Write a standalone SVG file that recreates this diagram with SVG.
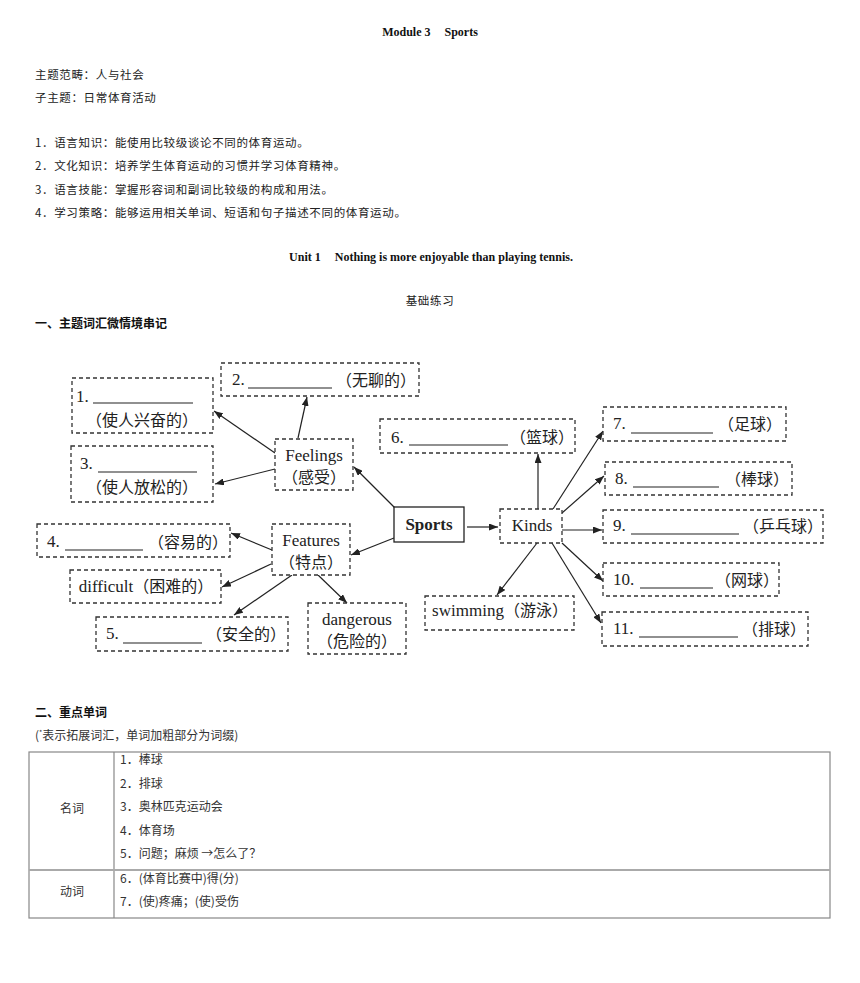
<svg xmlns="http://www.w3.org/2000/svg" width="860" height="983" viewBox="0 0 860 983">
<defs>
<marker id="ah" markerUnits="userSpaceOnUse" markerWidth="9" markerHeight="7" refX="9" refY="3.5" orient="auto">
<path d="M0,0 L9,3.5 L0,7 z" fill="#222"/>
</marker>
<style>
.bg{fill:#fff}
.hdr{font-family:"Liberation Serif","Noto Sans CJK SC",serif;font-weight:bold;font-size:12px;fill:#111}
.cn{font-family:"Noto Sans CJK SC",sans-serif;font-size:11.5px;fill:#222;letter-spacing:0.65px}
.cnb{font-family:"Noto Sans CJK SC",sans-serif;font-size:12px;font-weight:bold;fill:#111}
.box{fill:#fff;stroke:#333;stroke-width:1.3;stroke-dasharray:4 3}
.solid{fill:#fff;stroke:#222;stroke-width:1.3}
.t{font-family:"Liberation Serif","Noto Sans CJK SC",serif;font-size:17px;fill:#222}
.tc{font-family:"Liberation Serif","Noto Sans CJK SC",serif;font-size:16px;fill:#222}
.bl{stroke:#222;stroke-width:1.2}
.con line{stroke:#222;stroke-width:1.2;marker-end:url(#ah)}
.tb{fill:none;stroke:#888;stroke-width:1.2}
.tbl{font-family:"Noto Sans CJK SC",sans-serif;font-size:12px;fill:#333}
</style>
</defs>
<rect class="bg" x="0" y="0" width="860" height="983"/>

<g id="header">
<text class="hdr" x="430" y="36" text-anchor="middle" font-size="11.5">Module 3<tspan dx="14">Sports</tspan></text>
<text class="cn" x="35" y="79">主题范畴：人与社会</text>
<text class="cn" x="35" y="102">子主题：日常体育活动</text>
<text class="cn" x="35" y="147">1．语言知识：能使用比较级谈论不同的体育运动。</text>
<text class="cn" x="35" y="170">2．文化知识：培养学生体育运动的习惯并学习体育精神。</text>
<text class="cn" x="35" y="194">3．语言技能：掌握形容词和副词比较级的构成和用法。</text>
<text class="cn" x="35" y="217">4．学习策略：能够运用相关单词、短语和句子描述不同的体育运动。</text>
<text class="hdr" x="431" y="261" text-anchor="middle" font-size="11.5">Unit 1<tspan dx="14">Nothing is more enjoyable than playing tennis.</tspan></text>
<text class="cn" x="430" y="305" text-anchor="middle" font-size="12" letter-spacing="0">基础练习</text>
<text class="cnb" x="35" y="328">一、主题词汇微情境串记</text>
</g>

<g id="connectors" class="con">
<line x1="395" y1="508" x2="354" y2="467"/>
<line x1="394" y1="538" x2="351" y2="555"/>
<line x1="467" y1="527" x2="498" y2="527"/>
<line x1="275" y1="453" x2="214" y2="411"/>
<line x1="298" y1="438" x2="307" y2="397"/>
<line x1="275" y1="469" x2="215" y2="484"/>
<line x1="272" y1="550" x2="231" y2="533"/>
<line x1="271" y1="564" x2="222" y2="587"/>
<line x1="292" y1="575" x2="234" y2="615"/>
<line x1="318" y1="575" x2="347" y2="603"/>
<line x1="538" y1="509" x2="538" y2="454"/>
<line x1="553" y1="509" x2="603" y2="431"/>
<line x1="562" y1="513" x2="604" y2="476"/>
<line x1="562" y1="530" x2="602" y2="530"/>
<line x1="562" y1="543" x2="603" y2="581"/>
<line x1="552" y1="543" x2="601" y2="623"/>
<line x1="537" y1="543" x2="497" y2="595"/>
</g>

<g id="n1"><rect class="box" x="72" y="378" width="141" height="55"/>
<text class="t" x="76" y="402">1.</text><line class="bl" x1="93" y1="403" x2="193" y2="403"/>
<text class="tc" x="142" y="426" text-anchor="middle">（使人兴奋的）</text></g>

<g id="n2"><rect class="box" x="221" y="363" width="198" height="33"/>
<text class="t" x="232" y="385">2.</text><line class="bl" x1="248" y1="388" x2="332" y2="388"/>
<text class="tc" x="416" y="386" text-anchor="end">（无聊的）</text></g>

<g id="n3"><rect class="box" x="71" y="446" width="142" height="56"/>
<text class="t" x="80" y="469">3.</text><line class="bl" x1="98" y1="472" x2="197" y2="472"/>
<text class="tc" x="142" y="493" text-anchor="middle">（使人放松的）</text></g>

<g id="feelings"><rect class="box" x="275" y="439" width="78" height="51"/>
<text class="t" x="314" y="461" text-anchor="middle">Feelings</text>
<text class="tc" x="314" y="483" text-anchor="middle">（感受）</text></g>

<g id="sports"><rect class="solid" x="394" y="507" width="70" height="35"/>
<text class="t" x="429" y="530" text-anchor="middle" font-weight="bold" font-size="18">Sports</text></g>

<g id="kinds"><rect class="box" x="500" y="509" width="62" height="34"/>
<text class="t" x="532" y="531" text-anchor="middle">Kinds</text></g>

<g id="features"><rect class="box" x="272" y="524" width="78" height="51"/>
<text class="t" x="311" y="546" text-anchor="middle">Features</text>
<text class="tc" x="311" y="568" text-anchor="middle">（特点）</text></g>

<g id="n4"><rect class="box" x="37" y="524" width="193" height="33"/>
<text class="t" x="47" y="547">4.</text><line class="bl" x1="65" y1="550" x2="143" y2="550"/>
<text class="tc" x="228" y="548" text-anchor="end">（容易的）</text></g>

<g id="difficult"><rect class="box" x="70" y="570" width="151" height="33"/>
<text class="t" x="146" y="592" text-anchor="middle">difficult<tspan class="tc">（困难的）</tspan></text></g>

<g id="n5"><rect class="box" x="96" y="617" width="192" height="34"/>
<text class="t" x="106" y="639">5.</text><line class="bl" x1="123" y1="643" x2="202" y2="643"/>
<text class="tc" x="286" y="640" text-anchor="end">（安全的）</text></g>

<g id="dangerous"><rect class="box" x="308" y="603" width="98" height="51"/>
<text class="t" x="357" y="625" text-anchor="middle">dangerous</text>
<text class="tc" x="357" y="647" text-anchor="middle">（危险的）</text></g>

<g id="n6"><rect class="box" x="380" y="419" width="195" height="34"/>
<text class="t" x="391" y="443">6.</text><line class="bl" x1="409" y1="445" x2="508" y2="445"/>
<text class="tc" x="574" y="443" text-anchor="end">（篮球）</text></g>

<g id="n7"><rect class="box" x="603" y="407" width="183" height="34"/>
<text class="t" x="613" y="429">7.</text><line class="bl" x1="631" y1="433" x2="713" y2="433"/>
<text class="tc" x="782" y="430" text-anchor="end">（足球）</text></g>

<g id="n8"><rect class="box" x="605" y="462" width="187" height="33"/>
<text class="t" x="615" y="484">8.</text><line class="bl" x1="633" y1="487" x2="719" y2="487"/>
<text class="tc" x="789" y="485" text-anchor="end">（棒球）</text></g>

<g id="n9"><rect class="box" x="603" y="510" width="220" height="33"/>
<text class="t" x="613" y="531">9.</text><line class="bl" x1="631" y1="534" x2="739" y2="534"/>
<text class="tc" x="823" y="532" text-anchor="end">（乒乓球）</text></g>

<g id="n10"><rect class="box" x="603" y="563" width="176" height="33"/>
<text class="t" x="613" y="585">10.</text><line class="bl" x1="640" y1="588" x2="713" y2="588"/>
<text class="tc" x="779" y="586" text-anchor="end">（网球）</text></g>

<g id="n11"><rect class="box" x="602" y="612" width="206" height="34"/>
<text class="t" x="613" y="634">11.</text><line class="bl" x1="639" y1="637" x2="738" y2="637"/>
<text class="tc" x="806" y="635" text-anchor="end">（排球）</text></g>

<g id="swimming"><rect class="box" x="425" y="596" width="149" height="34"/>
<text class="t" x="500" y="616" text-anchor="middle">swimming<tspan class="tc">（游泳）</tspan></text></g>

<g id="section2">
<text class="cnb" x="35" y="717">二、重点单词</text>
<text class="tbl" x="35" y="740">(<tspan font-size="7" dy="-5">*</tspan><tspan dy="5">表示拓展词汇，单词加粗部分为词缀)</tspan></text>
<rect class="tb" x="29" y="752" width="801" height="166"/>
<line x1="114" y1="752" x2="114" y2="918" stroke="#888" stroke-width="1.2"/>
<line x1="29" y1="870" x2="830" y2="870" stroke="#aaa" stroke-width="2"/>
<text class="tbl" x="72" y="813" text-anchor="middle">名词</text>
<text class="tbl" x="72" y="896" text-anchor="middle">动词</text>
<text class="tbl" x="120" y="764">1．棒球</text>
<text class="tbl" x="120" y="788">2．排球</text>
<text class="tbl" x="120" y="811">3．奥林匹克运动会</text>
<text class="tbl" x="120" y="835">4．体育场</text>
<text class="tbl" x="120" y="858">5．问题；麻烦 →怎么了？</text>
<text class="tbl" x="120" y="883">6．(体育比赛中)得(分)</text>
<text class="tbl" x="120" y="906">7．(使)疼痛；(使)受伤</text>
</g>
</svg>
